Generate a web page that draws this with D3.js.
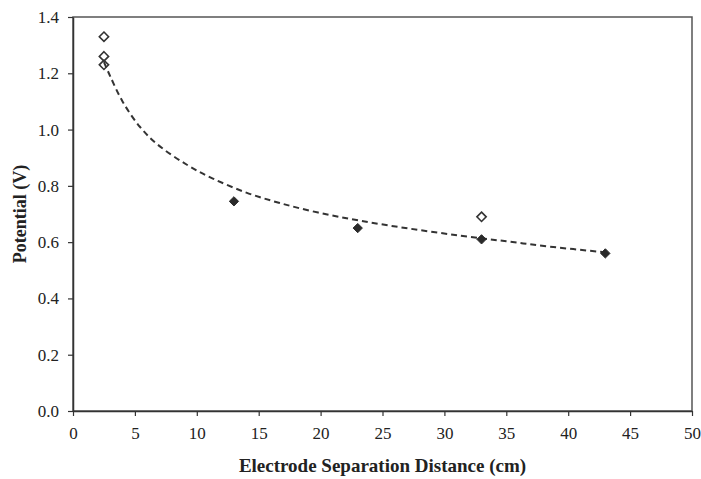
<!DOCTYPE html>
<html>
<head>
<meta charset="utf-8">
<script src="https://cdn.jsdelivr.net/npm/d3@7"></script>
<style>
body { margin: 0; background: #fff; }
text { font-family: "Liberation Serif", "Times New Roman", "DejaVu Serif", serif !important; }
</style>
</head>
<body>
<svg id="chart"></svg>
<script>
var svgWidth = 701;
var svgHeight = 479;
var margin = {left: 73, right: 9, top: 17, bottom: 68};
var serif = '"Liberation Serif", "Times New Roman", serif';

// measured points (filled diamonds)
var filledX = [13, 23, 33, 43];
var filledY = [0.745, 0.65, 0.61, 0.56];
// repeat measurements (open diamonds)
var openX = [2.5, 2.5, 2.5, 33];
var openY = [1.33, 1.26, 1.23, 0.69];
// trendline
var trendX = [2.5, 3, 4, 5.4, 6.8, 9.2, 11.3, 14, 16.7, 19.8, 23.2, 27.2, 31.3, 35, 38.5, 43];
var trendY = [1.24, 1.19, 1.1, 1.01, 0.948, 0.875, 0.826, 0.776, 0.739, 0.705, 0.676, 0.648, 0.623, 0.603, 0.584, 0.564];
var xTicks = [0, 5, 10, 15, 20, 25, 30, 35, 40, 45, 50];
var yTicks = [0, 0.2, 0.4, 0.6, 0.8, 1.0, 1.2, 1.4];

var xScale = d3.scaleLinear()
	.domain([0, 50])
	.range([margin.left, svgWidth - margin.right]);
var yScale = d3.scaleLinear()
	.domain([0, 1.4])
	.range([svgHeight - margin.bottom, margin.top]);

var svg = d3.select('#chart')
	.attr('width', svgWidth)
	.attr('height', svgHeight);

// plot frame
svg.append('rect')
	.attr('x', margin.left)
	.attr('y', margin.top)
	.attr('width', svgWidth - margin.right - margin.left)
	.attr('height', svgHeight - margin.bottom - margin.top)
	.attr('fill', 'none')
	.attr('stroke', '#555')
	.attr('stroke-width', 1.5);

var xAxis = d3.axisBottom(xScale)
	.tickValues(xTicks)
	.tickSize(5)
	.tickSizeOuter(0)
	.tickPadding(11);
var yAxis = d3.axisLeft(yScale)
	.tickValues(yTicks)
	.tickFormat(d3.format('.1f'))
	.tickSize(5)
	.tickSizeOuter(0)
	.tickPadding(9);

var gx = svg.append('g')
	.attr('transform', `translate(0,${svgHeight - margin.bottom})`)
	.call(xAxis);
var gy = svg.append('g')
	.attr('transform', `translate(${margin.left},0)`)
	.call(yAxis);

[gx, gy].forEach(function(g) {
	g.attr('font-family', serif).attr('font-size', 17);
	g.select('.domain').attr('stroke', '#333').attr('stroke-width', 1.5);
	g.selectAll('.tick line').attr('stroke', '#333').attr('stroke-width', 1.2);
	g.selectAll('.tick text').attr('fill', '#222');
});

svg.append('text')
	.attr('x', (margin.left + svgWidth - margin.right) / 2)
	.attr('y', svgHeight - 7)
	.attr('text-anchor', 'middle')
	.attr('font-family', serif)
	.attr('font-weight', 'bold')
	.attr('font-size', 19)
	.attr('fill', '#222')
	.text('Electrode Separation Distance (cm)');
svg.append('text')
	.attr('transform', 'rotate(-90)')
	.attr('x', -(margin.top + svgHeight - margin.bottom) / 2)
	.attr('y', 26)
	.attr('text-anchor', 'middle')
	.attr('font-family', serif)
	.attr('font-weight', 'bold')
	.attr('font-size', 18)
	.attr('fill', '#222')
	.text('Potential (V)');

// trendline
var line = d3.line()
	.x(d => xScale(d[0]))
	.y(d => yScale(d[1]))
	.curve(d3.curveCatmullRom);
svg.append('path')
	.datum(d3.zip(trendX, trendY))
	.attr('d', line)
	.attr('fill', 'none')
	.attr('stroke', '#333')
	.attr('stroke-width', 2)
	.attr('stroke-dasharray', '6,4');

var diamond = d3.symbol().type(d3.symbolDiamond2).size(55);

svg.selectAll('path.open')
	.data(d3.zip(openX, openY))
	.enter()
	.append('path')
	.attr('class', 'open')
	.attr('d', diamond)
	.attr('transform', d => `translate(${xScale(d[0])},${yScale(d[1])})`)
	.attr('fill', 'none')
	.attr('stroke', '#333')
	.attr('stroke-width', 1.6);

svg.selectAll('path.filled')
	.data(d3.zip(filledX, filledY))
	.enter()
	.append('path')
	.attr('class', 'filled')
	.attr('d', diamond)
	.attr('transform', d => `translate(${xScale(d[0])},${yScale(d[1])})`)
	.attr('fill', '#2a2a2a')
	.attr('stroke', '#2a2a2a')
	.attr('stroke-width', 1);
</script>
</body>
</html>
